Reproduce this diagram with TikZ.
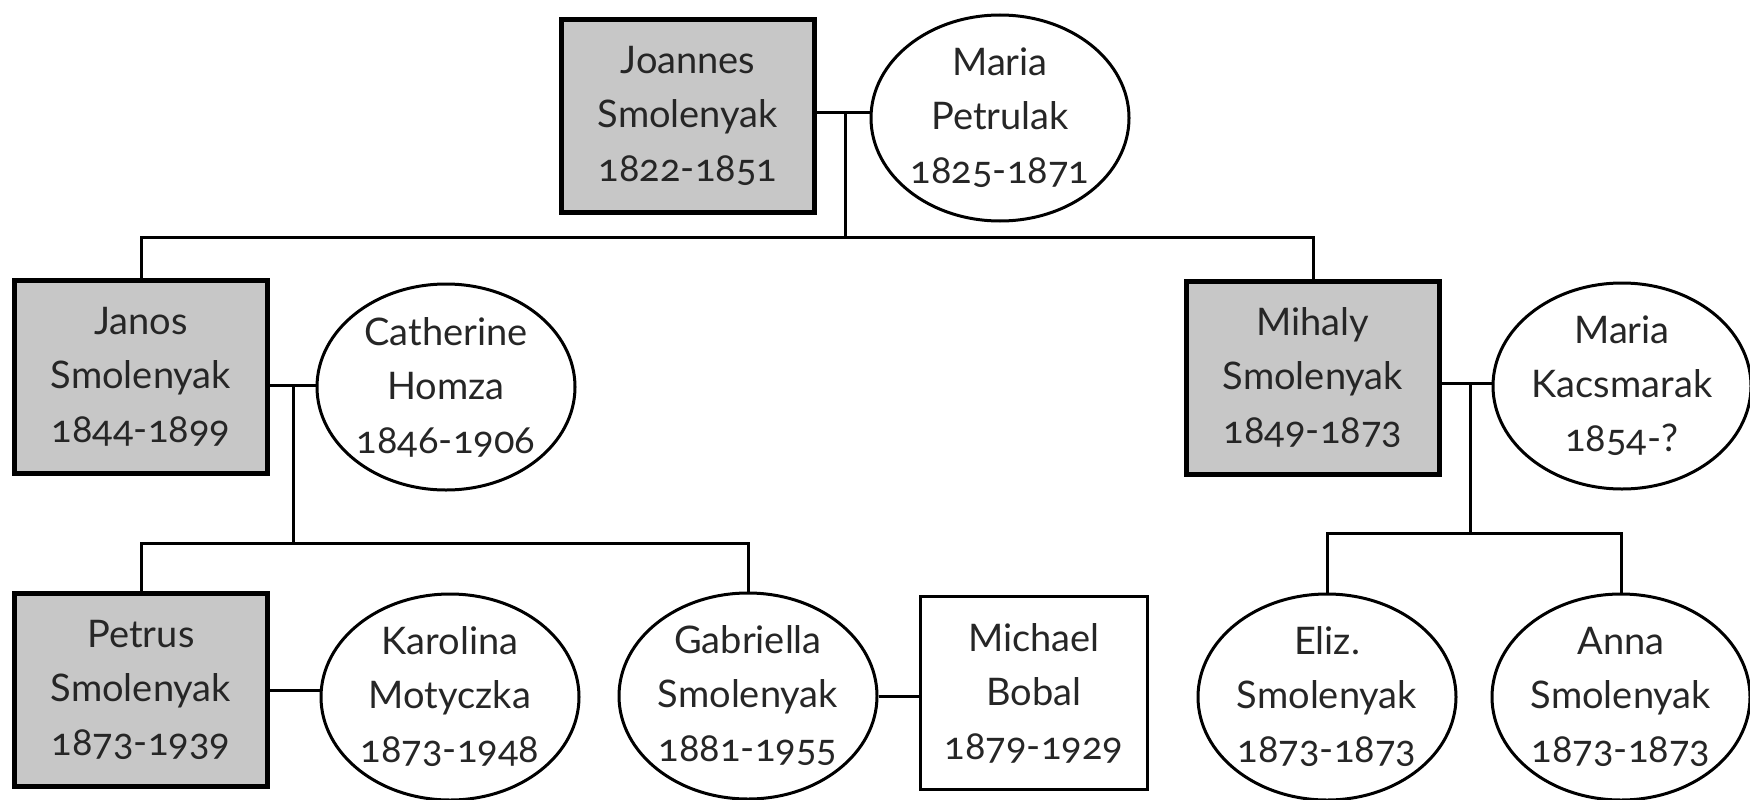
\documentclass[tikz,border=0pt]{standalone}
\usepackage{fontspec}
\setmainfont{Lato}[Numbers=OldStyle]
\usetikzlibrary{shapes.geometric}

\begin{document}
\begin{tikzpicture}[x=1pt, y=-1pt,
  every node/.style={align=center, inner sep=0pt, text=black!85,
    font=\fontsize{38}{54}\selectfont},
  male/.style={draw, line width=4.5pt, fill=black!22,
    minimum width=253pt, minimum height=193pt},
  female/.style={draw, ellipse, line width=3pt,
    minimum width=258pt, minimum height=206pt},
  inlaw/.style={draw, line width=3.5pt, minimum width=227pt, minimum height=193pt},
  link/.style={line width=3pt}]
  \useasboundingbox (0,0) rectangle (1750,800);

  % first generation
  \node[male] (joannes) at (688,116) {Joannes\\Smolenyak\\1822-1851};
  \node[female] (mariap) at (1000,118) {Maria\\Petrulak\\1825-1871};
  % second generation
  \node[male] (janos) at (141,377) {Janos\\Smolenyak\\1844-1899};
  \node[female] (catherine) at (446,387) {Catherine\\Homza\\1846-1906};
  \node[male] (mihaly) at (1313,378) {Mihaly\\Smolenyak\\1849-1873};
  \node[female] (mariak) at (1622,386) {Maria\\Kacsmarak\\1854-?};
  % third generation
  \node[male] (petrus) at (141,690) {Petrus\\Smolenyak\\1873-1939};
  \node[female] (karolina) at (450,697) {Karolina\\Motyczka\\1873-1948};
  \node[female] (gabriella) at (748,696) {Gabriella\\Smolenyak\\1881-1955};
  \node[inlaw] (michael) at (1034,693) {Michael\\Bobal\\1879-1929};
  \node[female] (eliz) at (1327,697) {Eliz.\\Smolenyak\\1873-1873};
  \node[female] (anna) at (1621,697) {Anna\\Smolenyak\\1873-1873};

  % marriages
  \coordinate (m1) at (845,112);
  \coordinate (m2) at (293,385);
  \coordinate (m3) at (1470,383);
  \draw[link] (joannes.east |- m1) -- (mariap.west |- m1);
  \draw[link] (janos.east |- m2) -- (catherine.west |- m2);
  \draw[link] (mihaly.east |- m3) -- (mariak.west |- m3);
  \draw[link] (petrus.east) -- (petrus.east -| karolina.west);
  \draw[link] (gabriella.east) -- (gabriella.east -| michael.west);

  % children
  \coordinate (b1) at (845,237);
  \coordinate (b2) at (293,543);
  \coordinate (b3) at (1470,533);
  \draw[link] (m1) -- (b1);
  \draw[link] (janos.north) |- (b1) -| (mihaly.north);
  \draw[link] (m2) -- (b2);
  \draw[link] (petrus.north) |- (b2) -| (gabriella.north);
  \draw[link] (m3) -- (b3);
  \draw[link] (eliz.north) |- (b3) -| (anna.north);
\end{tikzpicture}
\end{document}
